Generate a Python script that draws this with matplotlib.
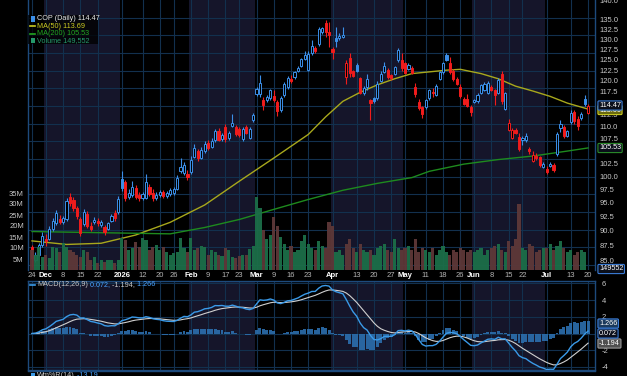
import numpy as np
import pandas as pd
import matplotlib
matplotlib.use("Agg")
import matplotlib.pyplot as plt
from matplotlib.patches import Rectangle
from matplotlib.lines import Line2D

W, H = 627, 376

# trading days 24 Nov 2025 .. 20 Jul 2026 (NYSE closures removed)
holidays = ["2025-11-27", "2025-12-25", "2026-01-01", "2026-01-19", "2026-02-16",
            "2026-04-03", "2026-05-25", "2026-06-19", "2026-07-03"]
dates = pd.bdate_range("2025-11-24", "2026-07-20")
dates = dates[~dates.isin(pd.to_datetime(holidays))]

opens = [87.2, 85.2, 86.0, 87.6, 88.7, 88.7, 90.4, 91.4, 92.0, 91.6, 92.1, 96.1, 95.5, 94.0, 92.1, 91.2,
         93.0, 90.9, 91.6, 91.8, 91.0, 90.6, 90.4, 91.8, 93.2, 93.4, 99.5, 98.8, 96.0, 96.4, 97.8, 96.5,
         95.8, 95.9, 98.0, 96.8, 95.9, 96.4, 97.0, 96.2, 96.6, 96.8, 97.6, 100.9, 100.6, 100.4, 100.7, 103.8,
         105.0, 103.6, 105.0, 106.6, 105.8, 107.2, 109.1, 107.4, 109.8, 107.5, 110.1, 109.8, 109.4, 107.4,
         109.8, 107.6, 111.4, 117.1, 117.1, 115.7, 115.7, 116.1, 116.5, 115.3, 113.5, 116.7, 118.6, 120.4,
         120.9, 122.3, 123.6, 125.1, 122.5, 126.6, 127.9, 128.8, 131.8, 134.1, 131.8, 127.6, 130.3, 130.2,
         130.6, 120.9, 125.3, 122.3, 123.8, 120.6, 117.3, 118.5, 115.6, 116.1, 116.1, 120.0, 122.0, 122.6,
         121.3, 121.7, 124.9, 124.9, 124.1, 122.8, 123.1, 118.6, 115.3, 114.1, 114.1, 116.1, 117.4, 116.8,
         120.4, 122.0, 126.2, 124.1, 122.3, 120.4, 118.6, 115.9, 115.9, 114.1, 115.3, 115.4, 117.3, 118.0,
         117.3, 118.6, 117.9, 117.3, 121.6, 113.8, 109.3, 107.6, 109.3, 107.8, 107.2, 107.2, 105.4, 103.0,
         104.0, 103.7, 101.8, 101.3, 102.0, 102.1, 104.3, 109.7, 109.8, 108.0, 111.0, 113.0, 111.6, 111.7,
         115.9, 112.9]
highs = [87.6, 86.5, 88.0, 89.8, 89.5, 90.8, 92.2, 93.6, 92.8, 92.6, 95.8, 96.8, 96.0, 94.5, 92.5, 93.8,
         93.5, 91.5, 92.4, 92.3, 91.9, 91.0, 91.6, 93.0, 93.6, 96.2, 101.0, 99.3, 97.5, 99.0, 98.2, 97.0,
         97.0, 100.4, 98.5, 97.5, 96.9, 97.4, 97.3, 97.2, 97.7, 98.0, 100.2, 103.6, 102.8, 101.2, 104.0, 106.3,
         105.4, 105.8, 107.0, 107.2, 107.5, 109.5, 109.6, 108.6, 110.4, 109.0, 112.6, 110.3, 109.8, 109.8,
         110.2, 109.8, 112.8, 118.6, 121.4, 116.3, 116.8, 118.2, 117.9, 115.7, 116.5, 119.8, 121.2, 121.4,
         122.3, 123.6, 125.5, 127.2, 127.0, 129.8, 128.3, 133.0, 133.2, 134.9, 134.3, 128.0, 133.0, 131.5,
         133.0, 124.8, 126.7, 122.6, 124.2, 120.8, 118.8, 121.5, 115.9, 116.4, 120.0, 122.2, 124.4, 123.0,
         121.6, 123.6, 127.8, 126.5, 124.5, 124.2, 123.5, 119.5, 116.0, 114.4, 115.9, 118.2, 118.3, 119.2,
         122.3, 124.5, 126.5, 125.6, 122.8, 121.0, 119.4, 116.4, 117.1, 114.6, 116.0, 117.2, 119.4, 119.8,
         120.0, 119.0, 118.2, 120.6, 122.4, 117.5, 111.5, 109.6, 109.6, 108.6, 108.0, 108.6, 105.8, 105.0,
         104.5, 104.0, 102.8, 102.0, 102.8, 102.5, 108.8, 111.3, 110.3, 109.3, 113.5, 113.5, 112.2, 113.0,
         116.8, 114.8]
lows = [84.0, 84.8, 85.8, 87.2, 87.5, 88.4, 90.0, 91.0, 91.2, 91.2, 91.8, 94.5, 93.5, 92.0, 89.2, 90.8,
        90.5, 90.0, 91.2, 90.9, 90.6, 89.3, 90.1, 91.5, 91.8, 93.0, 97.2, 95.3, 95.6, 96.0, 95.6, 95.3,
        95.5, 95.6, 96.2, 95.4, 95.5, 96.0, 95.8, 95.9, 96.3, 96.5, 97.3, 100.6, 100.2, 99.3, 100.3, 103.5,
        103.0, 103.3, 104.6, 105.2, 105.5, 106.8, 106.9, 107.0, 106.8, 107.2, 109.8, 108.0, 107.8, 107.0,
        108.3, 107.3, 111.0, 116.6, 116.3, 113.5, 115.2, 115.8, 115.3, 112.3, 113.0, 116.4, 118.2, 119.6,
        120.5, 122.0, 123.2, 124.8, 122.2, 126.2, 126.6, 128.4, 131.4, 130.5, 128.0, 125.2, 128.0, 129.8,
        130.2, 119.4, 120.9, 120.9, 122.0, 117.0, 116.8, 118.0, 111.4, 115.0, 115.8, 119.7, 121.8, 120.5,
        120.2, 121.4, 124.5, 122.4, 121.5, 122.5, 121.5, 116.4, 113.5, 111.8, 113.8, 115.8, 116.4, 116.5,
        120.1, 121.7, 124.7, 121.5, 120.0, 119.0, 116.1, 114.5, 114.1, 112.1, 115.0, 115.1, 117.0, 117.7,
        117.0, 117.6, 114.6, 117.0, 114.8, 113.5, 109.0, 107.3, 108.3, 104.9, 106.2, 106.8, 104.4, 102.8,
        103.2, 101.8, 101.5, 100.3, 101.7, 100.8, 104.0, 108.8, 107.5, 107.7, 110.4, 110.5, 109.2, 111.3,
        114.4, 112.6]
closes = [85.5, 86.0, 87.6, 89.2, 88.2, 90.4, 91.8, 93.2, 91.6, 92.2, 95.3, 95.0, 94.0, 92.7, 89.6, 93.3,
          90.9, 90.4, 91.9, 91.3, 91.5, 89.8, 91.3, 92.7, 92.2, 95.6, 97.8, 95.8, 96.8, 98.0, 96.0, 95.8,
          96.6, 98.8, 96.6, 95.8, 96.5, 97.0, 96.2, 96.8, 97.3, 97.6, 99.6, 101.8, 102.2, 99.9, 103.2, 105.6,
          103.5, 105.2, 106.4, 105.6, 107.0, 109.1, 107.2, 108.2, 107.3, 108.6, 110.7, 108.4, 108.2, 109.4,
          108.6, 109.5, 112.4, 118.2, 119.6, 114.6, 116.3, 117.9, 115.7, 113.3, 116.1, 119.3, 120.7, 120.0,
          122.0, 123.0, 125.1, 126.1, 126.3, 128.2, 127.0, 132.6, 132.8, 131.8, 131.1, 126.9, 129.5, 130.8,
          131.1, 124.2, 121.8, 121.2, 122.2, 117.3, 118.4, 120.4, 115.1, 115.4, 119.4, 121.7, 123.5, 121.0,
          120.6, 123.3, 127.3, 123.1, 121.8, 123.8, 121.8, 117.1, 113.9, 112.6, 115.6, 117.9, 117.2, 118.9,
          122.0, 124.3, 125.0, 122.0, 120.4, 119.2, 116.5, 114.8, 114.3, 113.0, 115.7, 116.9, 119.1, 119.3,
          119.6, 117.9, 116.8, 120.3, 115.4, 117.2, 110.7, 109.2, 108.6, 105.3, 107.6, 108.0, 104.9, 104.2,
          103.6, 102.2, 102.4, 100.8, 102.4, 101.2, 108.4, 110.4, 107.9, 109.0, 112.8, 111.2, 110.0, 112.6,
          114.7, 114.47]
prev_close = 86.0

# volume, millions
volume = [9.0, 7.0, 10.5, 6.0, 6.8, 5.3, 10.6, 9.8, 8.3, 12.1, 10.6, 9.1, 8.3, 6.8, 6.1, 9.1,
          8.3, 4.5, 6.1, 3.0, 4.5, 3.8, 4.5, 4.5, 3.0, 4.5, 14.4, 13.6, 9.1, 9.8, 12.9, 10.6,
          14.4, 13.6, 9.1, 10.6, 11.4, 9.1, 10.6, 8.3, 6.8, 7.6, 8.3, 14.4, 9.8, 8.3, 14.4, 9.1,
          10.0, 11.0, 10.5, 7.0, 9.0, 8.0, 7.0, 6.5, 10.0, 9.0, 6.0, 5.5, 6.5, 7.0, 6.8, 9.5,
          11.0, 33.0, 28.0, 18.0, 14.0, 16.0, 24.0, 20.0, 15.0, 12.0, 9.0, 11.0, 8.0, 9.0, 13.0, 16.0,
          12.0, 10.0, 9.0, 13.0, 11.0, 10.0, 22.0, 20.0, 8.0, 9.0, 7.0, 12.0, 14.0, 10.0, 8.0, 12.0,
          9.0, 8.0, 9.0, 7.0, 10.0, 11.0, 12.0, 9.0, 8.0, 14.0, 10.0, 9.0, 10.0, 11.0, 9.0, 14.0,
          8.0, 10.0, 9.0, 8.0, 10.0, 7.0, 9.0, 11.0, 8.0, 7.0, 9.0, 8.0, 10.0, 9.0, 8.0, 9.0,
          8.0, 9.0, 10.0, 7.0, 9.0, 10.0, 11.0, 12.0, 9.0, 8.0, 13.0, 11.0, 14.0, 30.0, 10.0, 9.0,
          12.0, 11.0, 8.0, 9.0, 10.0, 10.0, 12.0, 9.0, 11.0, 13.0, 10.0, 8.0, 9.0, 7.0, 8.0, 9.0,
          8.0, 0.15]

# moving averages read at selected days
ma50_days = [0, 10, 20, 30, 40, 50, 60, 70, 80, 85, 90, 95, 100, 105, 110, 115, 120, 124, 130, 135,
             140, 145, 150, 155, 161]
ma50_vals = [88.3, 87.7, 87.9, 89.3, 91.5, 94.6, 99.0, 103.5, 108.3, 112.0, 115.4, 117.4, 119.1, 120.5,
             121.7, 122.1, 122.5, 122.7, 121.7, 120.5, 118.8, 117.7, 116.5, 115.0, 113.69]
ma200_days = [0, 20, 40, 50, 60, 70, 80, 90, 100, 110, 115, 125, 135, 145, 155, 161]
ma200_vals = [89.9, 89.7, 89.5, 90.6, 92.0, 93.8, 95.6, 97.3, 98.6, 99.7, 100.9, 102.3, 103.2, 103.9,
              104.9, 105.53]

tick_dates = ["2025-11-24", "2025-12-01", "2025-12-08", "2025-12-15", "2025-12-22", "2026-01-02",
              "2026-01-12", "2026-01-20", "2026-01-26", "2026-02-02", "2026-02-09", "2026-02-17",
              "2026-02-23", "2026-03-02", "2026-03-09", "2026-03-16", "2026-03-23", "2026-04-01",
              "2026-04-13", "2026-04-20", "2026-04-27", "2026-05-01", "2026-05-11", "2026-05-18",
              "2026-05-26", "2026-06-01", "2026-06-08", "2026-06-15", "2026-06-22", "2026-07-01",
              "2026-07-13", "2026-07-20"]
tick_text = ["24", "Dec", "8", "15", "22", "2026", "12", "20", "26", "Feb", "9", "17", "23", "Mar",
             "9", "16", "23", "Apr", "13", "20", "27", "May", "11", "18", "26", "Jun", "8", "15", "22",
             "Jul", "13", "20"]
# 115.0, 105.0 and 0 sit under the value tags
price_ticks = [85.0, 87.5, 90.0, 92.5, 95.0, 97.5, 100.0, 102.5, 107.5, 110.0, 112.5,
               117.5, 120.0, 122.5, 125.0, 127.5, 130.0, 132.5, 135.0, 140.0]
vol_ticks = [5, 10, 15, 20, 25, 30, 35]
macd_ticks = [6, 4, 2, -2, -4]
macd_grid = [6, 4, 2, 0, -2, -4]

BLUE = "#3b8fe8"
RED = "#f01c1c"
SHADE = "#15152a"
GRID = "#12304e"
FRAME = "#1d4a7c"
TXT = "#c8c8c8"
plt.rcParams["font.family"] = "Liberation Sans"

o = np.array(opens); hi = np.array(highs); lo = np.array(lows); c = np.array(closes)
n = len(c)
x = np.arange(n)
pc = np.concatenate([[prev_close], c[:-1]])
up = c >= pc
hollow = c >= o


def rect(x0, y0, x1, y1):
    return [x0 / W, 1 - y1 / H, (x1 - x0) / W, (y1 - y0) / H]


def fx(px):
    return px / W


def fy(py):
    return 1 - py / H


fig = plt.figure(figsize=(W / 100, H / 100), dpi=100, facecolor="black")
axv = fig.add_axes(rect(28, 0, 595, 270))
ax = fig.add_axes(rect(28, 0, 595, 270), sharex=axv)
axm = fig.add_axes(rect(28, 281, 595, 370), sharex=axv)
ax.patch.set_alpha(0)
axv.set_facecolor("black")
axm.set_facecolor("black")

tick_pos = [dates.get_loc(pd.Timestamp(d)) for d in tick_dates]
month = dates.month
for a in (axv, axm):
    for m in (12, 2, 4, 6):
        idx = np.where(month == m)[0]
        a.axvspan(idx[0] - 0.5, idx[-1] + 0.5, color=SHADE, lw=0, zorder=0)
    for p in tick_pos:
        a.axvline(p, color=GRID, lw=0.8, zorder=0.5)

# horizontal grid in main panel
for k in range(16):
    axv.axhline(1 - (17.5 + 17.68 * k) / 270, color=GRID, lw=0.8, zorder=0.5)
axv.set_ylim(0, 1)

# volume bars on their own scale
axvol = axv.twinx()
vcol = np.where(up, "#1c6e48", "#5e3838")
axvol.bar(x, volume, width=0.9, color=vcol, alpha=0.95, zorder=1)
axvol.set_ylim(0, 270 / 2.2)
axvol.yaxis.set_ticks_position("left")
axvol.set_yticks(vol_ticks)
axvol.set_yticklabels([f"{v}M" for v in vol_ticks])
axvol.tick_params(axis="y", colors=TXT, labelsize=5.5, length=0, pad=3)
axv.set_yticks([])

# candles
ax.set_yscale("log")
ax.vlines(x, lo, hi, colors=np.where(up, BLUE, RED), lw=0.8, zorder=3)
body_lo = np.minimum(o, c)
body_h = np.maximum(np.abs(c - o), 0.15)
face = [("black" if h else (BLUE if u else RED)) for h, u in zip(hollow, up)]
edge = np.where(up, BLUE, RED)
ax.bar(x, body_h, bottom=body_lo, width=0.62, color=face, edgecolor=edge, lw=0.7, zorder=4)
ax.plot(ma50_days, ma50_vals, color="#a8a81c", lw=1.0, zorder=2)
ax.plot(ma200_days, ma200_vals, color="#1e8a1e", lw=1.0, zorder=2)

p0 = 135 * np.exp(-(0 - 19.5) / 521.5)
p1 = 135 * np.exp(-(270 - 19.5) / 521.5)
ax.set_ylim(p1, p0)
ax.yaxis.set_minor_locator(matplotlib.ticker.NullLocator())
ax.yaxis.tick_right()
ax.set_yticks(price_ticks)
ax.set_yticklabels([f"{t:.1f}" for t in price_ticks])
ax.tick_params(axis="y", colors=TXT, labelsize=5.5, length=0, pad=3)
ax.tick_params(axis="x", bottom=False, labelbottom=False)

axv.set_xlim(-1.16, 163.0)
axv.set_xticks(tick_pos)
axv.set_xticklabels(tick_text)
axv.tick_params(axis="x", length=0, pad=1.5, labelsize=5.5, colors="#b4b4b4")
for lab in axv.get_xticklabels():
    if not lab.get_text().isdigit() or lab.get_text() == "2026":
        lab.set_fontweight("bold")
        lab.set_color("white")

for a in (ax, axv, axvol):
    for s in a.spines.values():
        s.set_visible(False)
for side in ("left", "right"):
    axvol.spines[side].set_visible(True)
    axvol.spines[side].set_color(FRAME)
    axvol.spines[side].set_linewidth(1.0)

# MACD panel
cs = pd.Series(c)
macd = cs.ewm(span=12, adjust=False).mean() - cs.ewm(span=26, adjust=False).mean()
signal = macd.ewm(span=9, adjust=False).mean()
hist = macd - signal
for t in macd_grid:
    axm.axhline(t, color=GRID, lw=0.8, zorder=0.5)
axm.bar(x, hist, width=0.85, color="#2c6fae", alpha=0.9, zorder=1)
axm.plot(x, signal, color="#d0d0d0", lw=0.8, zorder=2)
axm.plot(x, macd, color="#3a9ae8", lw=1.0, zorder=3)
axm.set_ylim((333.5 - 370) / 8.35, (333.5 - 281) / 8.35)
axm.yaxis.tick_right()
axm.set_yticks(macd_ticks)
axm.set_yticklabels([str(t) for t in macd_ticks])
axm.tick_params(axis="y", colors=TXT, labelsize=5.5, length=0, pad=5)
axm.tick_params(axis="x", bottom=False, labelbottom=False)
for s in axm.spines.values():
    s.set_color(FRAME)
    s.set_linewidth(1.0)

# legend block, main panel
fig.add_artist(Rectangle((fx(28), fy(44)), fx(70), 29 / H, transform=fig.transFigure,
                         color="black", alpha=0.75, lw=0))
leg = [("COP (Daily) 114.47", "#e6e6e6", BLUE), ("MA(50) 113.69", "#cccc22", "#cccc22"),
       ("MA(200) 105.53", "#22a622", "#22a622"), ("Volume 149,552", "#25996a", "#25996a")]
for i, (t, tc, ic) in enumerate(leg):
    yy = 19 + 7.3 * i
    fig.text(fx(37), fy(yy), t, color=tc, fontsize=5.2, va="center", ha="left")
    if i == 0 or i == 3:
        fig.add_artist(Rectangle((fx(31), fy(yy + 2.5)), fx(4), 5 / H, transform=fig.transFigure,
                                 color=ic, lw=0))
    else:
        fig.add_artist(Line2D([fx(30), fx(35)], [fy(yy), fy(yy)], transform=fig.transFigure,
                              color=ic, lw=1.2))


def after(anchor, t, col, size=5.2):
    # next piece of a legend line, placed right after the previous text
    return axm.annotate(" " + t, xy=(1, 0.5), xycoords=anchor, va="center", ha="left",
                        color=col, fontsize=size, annotation_clip=False)


# MACD legend
fig.add_artist(Line2D([fx(30), fx(35)], [fy(285), fy(285)], transform=fig.transFigure,
                      color="#3a9ae8", lw=1.2))
piece = fig.text(fx(37), fy(285), "MACD(12,26,9)", color=TXT, fontsize=5.2, va="center", ha="left")
for t, col in [("0.072,", "#4aa3ff"), ("-1.194,", TXT), ("1.266", "#4aa3ff")]:
    piece = after(piece, t, col)

# Williams %R legend (cut at the bottom)
fig.add_artist(Line2D([fx(28), fx(595)], [fy(371), fy(371)], transform=fig.transFigure,
                      color=FRAME, lw=1.0))
fig.add_artist(Rectangle((fx(31), fy(376)), fx(4), 3 / H, transform=fig.transFigure,
                         color="#3a9ae8", lw=0))
wm = fig.text(fx(37), fy(375.5), "Wm%R(14)", color=TXT, fontsize=5.2, va="center", ha="left")
after(wm, "-13.19", "#4aa3ff")


def tag(ypx, text, ec, fc="#0b0f1a", tc="white"):
    fig.text(fx(599), fy(ypx), text, color=tc, fontsize=5.2, va="center", ha="left",
             bbox=dict(boxstyle="round,pad=0.15", fc=fc, ec=ec, lw=0.8))


tag(110, "113.69", "#c8c820", fc="#6b6b10")
tag(105.5, "114.47", "#3a7bd5")
tag(148, "105.53", "#2a8a2a")
tag(269, "149552", "#3a7bd5")
tag(343.5, "-1.194", "#9a9a9a", fc="#505050")
tag(323.5, "1.266", "#3a7bd5", fc="#1b3a5c")
tag(333.5, "0.072", "#3a7bd5")

fig.savefig("out.png", dpi=100, facecolor="black")
